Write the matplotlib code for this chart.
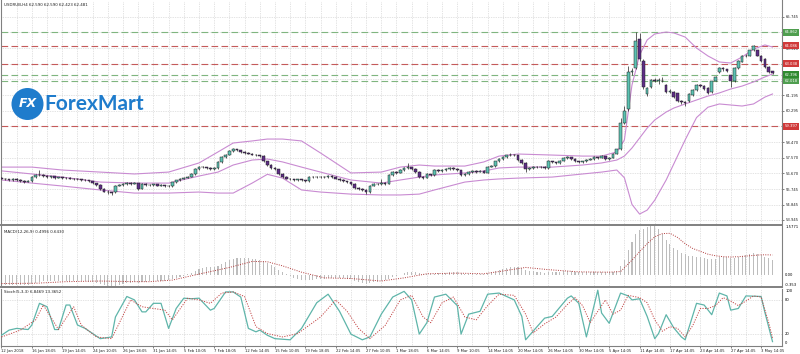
import matplotlib
matplotlib.use("Agg")
import matplotlib.pyplot as plt
from matplotlib.patches import Ellipse
import numpy as np

# H4 candles, one entry per bar
opens = [56.40, 56.35, 56.30, 56.25, 56.32, 56.28, 56.22, 56.18,
         56.20, 56.45, 56.55, 56.55, 56.50, 56.45, 56.48, 56.40,
         56.42, 56.38, 56.40, 56.35, 56.33, 56.30, 56.28, 56.25,
         56.20, 56.10, 56.00, 55.75, 55.60, 55.55, 55.55, 55.95,
         56.00, 56.05, 56.10, 56.05, 56.10, 55.75, 56.05, 56.00,
         55.98, 56.02, 55.95, 55.98, 55.90, 55.90, 56.15, 56.25,
         56.35, 56.40, 56.45, 56.60, 56.90, 57.05, 57.00, 56.95,
         56.90, 56.95, 57.30, 57.60, 57.75, 57.95, 58.05, 58.00,
         57.90, 57.85, 57.80, 57.75, 57.70, 57.65, 57.35, 57.15,
         56.95, 56.90, 56.60, 56.45, 56.35, 56.30, 56.25, 56.30,
         56.25, 56.20, 56.45, 56.45, 56.42, 56.45, 56.42, 56.50,
         56.45, 56.35, 56.25, 56.20, 56.15, 56.05, 55.80, 55.75,
         55.70, 55.55, 55.95, 56.05, 56.05, 56.10, 56.05, 56.55,
         56.75, 56.70, 56.85, 56.95, 57.00, 56.90, 56.75, 56.45,
         56.40, 56.60, 56.55, 56.85, 56.80, 56.85, 56.90, 56.95,
         56.92, 56.85, 56.55, 56.60, 56.75, 56.80, 56.75, 56.80,
         56.70, 57.05, 57.10, 57.35, 57.50, 57.60, 57.70, 57.75,
         57.70, 57.45, 57.25, 56.90, 56.95, 57.05, 57.00, 57.05,
         56.95, 57.35, 57.30, 57.25, 57.40, 57.55, 57.60, 57.50,
         57.35, 57.30, 57.35, 57.45, 57.50, 57.60, 57.55, 57.65,
         57.50, 57.55, 57.80, 58.05, 59.60, 60.40, 62.55, 62.80,
         64.45, 63.20, 61.25, 61.65, 62.08, 62.05, 62.05, 61.80,
         61.38, 61.40, 61.30, 60.85, 60.80, 60.85, 61.20, 61.50,
         61.80, 61.75, 61.60, 61.40, 62.05, 62.55, 62.78, 62.70,
         62.35, 62.00, 62.80, 63.15, 63.50, 63.50, 63.80, 63.80,
         63.50, 63.30, 62.85, 62.59]
highs = [56.45, 56.40, 56.35, 56.38, 56.36, 56.32, 56.26, 56.25,
         56.50, 56.62, 56.85, 56.60, 56.55, 56.52, 56.50, 56.47,
         56.45, 56.44, 56.42, 56.38, 56.36, 56.34, 56.31, 56.28,
         56.22, 56.12, 56.02, 55.80, 55.66, 55.60, 56.00, 56.05,
         56.10, 56.15, 56.14, 56.15, 56.12, 56.10, 56.08, 56.04,
         56.06, 56.05, 56.02, 56.00, 55.98, 56.18, 56.28, 56.38,
         56.43, 56.50, 56.65, 56.95, 57.10, 57.08, 57.04, 57.00,
         57.00, 57.35, 57.65, 57.80, 58.00, 58.12, 58.08, 58.02,
         57.95, 57.90, 57.84, 57.80, 57.74, 57.75, 57.40, 57.18,
         57.00, 56.92, 56.65, 56.48, 56.40, 56.34, 56.34, 56.33,
         56.28, 56.50, 56.52, 56.50, 56.50, 56.48, 56.55, 56.54,
         56.48, 56.38, 56.30, 56.24, 56.18, 56.08, 55.85, 55.80,
         55.74, 56.00, 56.10, 56.12, 56.30, 56.15, 56.60, 56.80,
         56.80, 56.90, 57.00, 57.25, 57.05, 56.95, 56.80, 56.50,
         56.65, 56.64, 56.90, 56.90, 56.92, 56.96, 57.02, 57.00,
         56.96, 56.88, 56.66, 56.80, 56.85, 56.84, 56.85, 56.84,
         57.10, 57.15, 57.40, 57.55, 57.65, 57.75, 57.85, 57.80,
         57.74, 57.50, 57.30, 57.00, 57.10, 57.08, 57.10, 57.08,
         57.45, 57.40, 57.34, 57.45, 57.60, 57.65, 57.63, 57.53,
         57.38, 57.40, 57.50, 57.55, 57.65, 57.63, 57.70, 57.68,
         57.60, 57.85, 58.10, 59.90, 60.60, 62.90, 62.80, 64.86,
         64.80, 63.30, 61.70, 62.15, 62.20, 62.20, 62.25, 61.85,
         61.55, 61.45, 61.35, 60.90, 60.85, 61.30, 61.55, 61.85,
         61.85, 61.80, 61.65, 62.05, 62.30, 62.85, 62.85, 62.75,
         62.40, 62.85, 63.25, 63.55, 63.60, 63.85, 64.09, 63.85,
         63.55, 63.35, 62.90, 62.59]
lows = [56.30, 56.25, 56.20, 56.22, 56.24, 56.18, 56.12, 56.14,
        56.18, 56.40, 56.48, 56.45, 56.40, 56.40, 56.35, 56.36,
        56.33, 56.34, 56.30, 56.28, 56.25, 56.24, 56.20, 56.15,
        56.05, 55.95, 55.70, 55.55, 55.48, 55.40, 55.50, 55.90,
        55.95, 56.00, 56.00, 56.02, 55.70, 55.72, 55.95, 55.94,
        55.95, 55.92, 55.92, 55.86, 55.86, 55.87, 56.12, 56.22,
        56.30, 56.36, 56.42, 56.58, 56.85, 56.95, 56.90, 56.86,
        56.88, 56.92, 57.25, 57.55, 57.70, 57.90, 57.95, 57.86,
        57.80, 57.76, 57.70, 57.66, 57.60, 57.30, 57.10, 56.90,
        56.86, 56.55, 56.40, 56.30, 56.26, 56.20, 56.22, 56.20,
        56.15, 56.18, 56.38, 56.38, 56.40, 56.36, 56.40, 56.40,
        56.30, 56.20, 56.16, 56.10, 56.00, 55.75, 55.70, 55.64,
        55.48, 55.52, 55.90, 55.98, 56.00, 56.00, 56.02, 56.50,
        56.64, 56.66, 56.80, 56.90, 56.85, 56.70, 56.40, 56.35,
        56.38, 56.50, 56.52, 56.75, 56.76, 56.80, 56.86, 56.88,
        56.80, 56.50, 56.50, 56.56, 56.70, 56.70, 56.72, 56.65,
        56.66, 57.00, 57.05, 57.30, 57.45, 57.55, 57.65, 57.65,
        57.40, 57.20, 56.75, 56.85, 56.90, 56.95, 56.96, 56.90,
        56.90, 57.25, 57.20, 57.22, 57.36, 57.50, 57.45, 57.30,
        57.25, 57.26, 57.32, 57.42, 57.46, 57.50, 57.52, 57.45,
        57.46, 57.52, 57.76, 58.00, 59.50, 60.30, 62.40, 62.70,
        63.20, 61.55, 61.15, 61.60, 61.95, 61.85, 61.95, 61.30,
        61.30, 61.05, 60.80, 60.70, 60.60, 60.80, 61.15, 61.45,
        61.65, 61.50, 61.25, 61.35, 62.00, 62.50, 62.60, 62.55,
        61.70, 61.95, 62.75, 63.10, 63.40, 63.45, 63.75, 63.45,
        63.15, 62.80, 62.50, 62.42]
closes = [56.35, 56.30, 56.25, 56.32, 56.28, 56.22, 56.18, 56.20,
          56.45, 56.55, 56.55, 56.50, 56.45, 56.48, 56.40, 56.42,
          56.38, 56.40, 56.35, 56.33, 56.30, 56.28, 56.25, 56.20,
          56.10, 56.00, 55.75, 55.60, 55.55, 55.50, 55.95, 56.00,
          56.05, 56.10, 56.05, 56.10, 55.75, 56.05, 56.00, 55.98,
          56.02, 55.95, 55.98, 55.90, 55.95, 56.15, 56.25, 56.35,
          56.40, 56.45, 56.60, 56.90, 57.05, 57.00, 56.95, 56.90,
          56.95, 57.30, 57.60, 57.75, 57.95, 58.05, 58.00, 57.90,
          57.85, 57.80, 57.75, 57.70, 57.65, 57.35, 57.15, 56.95,
          56.90, 56.60, 56.45, 56.35, 56.30, 56.25, 56.30, 56.25,
          56.20, 56.45, 56.45, 56.42, 56.45, 56.42, 56.50, 56.45,
          56.35, 56.25, 56.20, 56.15, 56.05, 55.80, 55.75, 55.70,
          55.55, 55.95, 56.05, 56.05, 56.10, 56.05, 56.55, 56.75,
          56.70, 56.85, 56.95, 57.00, 56.90, 56.75, 56.45, 56.40,
          56.60, 56.55, 56.85, 56.80, 56.85, 56.90, 56.95, 56.92,
          56.85, 56.55, 56.60, 56.75, 56.80, 56.75, 56.80, 56.70,
          57.05, 57.10, 57.35, 57.50, 57.60, 57.70, 57.75, 57.70,
          57.45, 57.25, 56.90, 56.95, 57.05, 57.00, 57.05, 56.95,
          57.35, 57.30, 57.25, 57.40, 57.55, 57.60, 57.50, 57.35,
          57.30, 57.35, 57.45, 57.50, 57.60, 57.55, 57.65, 57.50,
          57.55, 57.80, 58.05, 59.60, 60.30, 62.55, 62.60, 64.35,
          63.30, 61.65, 61.60, 62.08, 62.05, 62.05, 62.00, 61.38,
          61.45, 61.10, 60.85, 60.80, 60.75, 61.25, 61.50, 61.80,
          61.72, 61.55, 61.30, 62.00, 62.25, 62.78, 62.70, 62.60,
          62.00, 62.80, 63.20, 63.50, 63.45, 63.80, 64.05, 63.50,
          63.20, 62.85, 62.55, 62.48]

# Bollinger bands, read at these bar positions
bb_idx = [0, 8, 16, 26, 35, 44, 52, 57, 61, 66, 70, 74, 79, 84, 92, 100, 105,
          110, 114, 122, 127, 131, 136, 145, 153, 158, 162, 164, 166, 168, 170,
          172, 175, 177, 180, 183, 186, 189, 192, 195, 198, 201, 203]
bb_upper = [57.02, 57.02, 56.85, 56.73, 56.62, 56.73, 57.26, 57.90, 58.42, 58.54,
            58.65, 58.65, 58.54, 57.84, 56.68, 56.73, 57.02, 57.14, 57.08, 57.08,
            57.32, 57.66, 57.78, 57.72, 57.66, 57.66, 57.90, 58.60, 61.79, 63.53,
            64.41, 64.76, 64.87, 64.82, 64.58, 63.94, 63.48, 63.13, 63.07, 63.42,
            63.88, 64.12, 64.00]
bb_mid = [56.80, 56.62, 56.44, 56.15, 56.09, 56.09, 56.50, 56.73, 57.14, 57.43,
          57.49, 57.32, 57.02, 56.73, 56.27, 56.09, 56.27, 56.44, 56.56, 56.68,
          56.79, 56.97, 57.02, 57.02, 57.14, 57.26, 57.43, 57.66, 58.13, 58.71,
          59.29, 59.76, 60.22, 60.45, 60.69, 60.92, 61.15, 61.33, 61.56, 61.73,
          61.97, 62.26, 62.43]
bb_lower = [56.27, 56.09, 55.92, 55.69, 55.51, 55.51, 55.57, 55.51, 55.51, 56.09,
            56.60, 56.38, 55.69, 55.57, 55.45, 55.40, 55.40, 55.45, 55.69, 56.15,
            56.27, 56.33, 56.38, 56.44, 56.62, 56.73, 56.85, 56.40, 54.85, 54.29,
            54.52, 55.10, 56.27, 57.20, 58.60, 59.90, 60.50, 60.69, 60.63, 60.57,
            60.69, 61.09, 61.27]

# MACD(12,26,9): main values per bar, signal read at sample bars
macd = [-0.30, -0.30, -0.31, -0.30, -0.30, -0.30, -0.30, -0.29,
        -0.27, -0.24, -0.21, -0.19, -0.18, -0.17, -0.17, -0.17,
        -0.17, -0.17, -0.17, -0.17, -0.18, -0.18, -0.19, -0.20,
        -0.22, -0.24, -0.28, -0.32, -0.35, -0.353, -0.34, -0.31,
        -0.28, -0.25, -0.23, -0.21, -0.23, -0.21, -0.20, -0.19,
        -0.18, -0.17, -0.17, -0.17, -0.16, -0.13, -0.09, -0.05,
        -0.01, 0.03, 0.07, 0.13, 0.19, 0.23, 0.25, 0.26,
        0.27, 0.31, 0.37, 0.42, 0.47, 0.52, 0.54, 0.55,
        0.55, 0.54, 0.53, 0.51, 0.49, 0.45, 0.39, 0.32,
        0.26, 0.18, 0.10, 0.03, -0.03, -0.08, -0.11, -0.14,
        -0.16, -0.15, -0.14, -0.13, -0.11, -0.10, -0.08, -0.07,
        -0.07, -0.08, -0.09, -0.11, -0.13, -0.17, -0.20, -0.23,
        -0.26, -0.25, -0.22, -0.20, -0.18, -0.16, -0.11, -0.06,
        -0.02, 0.02, 0.06, 0.09, 0.10, 0.10, 0.07, 0.05,
        0.04, 0.03, 0.05, 0.06, 0.07, 0.08, 0.09, 0.09,
        0.09, 0.06, 0.05, 0.05, 0.05, 0.05, 0.05, 0.04,
        0.06, 0.09, 0.13, 0.17, 0.21, 0.24, 0.26, 0.27,
        0.26, 0.23, 0.18, 0.15, 0.13, 0.11, 0.10, 0.08,
        0.10, 0.11, 0.11, 0.12, 0.13, 0.14, 0.14, 0.12,
        0.10, 0.09, 0.09, 0.10, 0.11, 0.11, 0.12, 0.11,
        0.11, 0.12, 0.15, 0.30, 0.50, 0.80, 1.05, 1.30,
        1.42, 1.48, 1.53, 1.56, 1.5771, 1.48, 1.30, 1.12,
        0.98, 0.88, 0.80, 0.72, 0.66, 0.62, 0.60, 0.59,
        0.58, 0.56, 0.53, 0.52, 0.53, 0.57, 0.59, 0.59,
        0.55, 0.55, 0.58, 0.62, 0.64, 0.66, 0.70, 0.68,
        0.64, 0.59, 0.54, 0.4996]
sig_idx = [0, 9, 17, 26, 35, 39, 45, 52, 60, 66, 70, 74, 79, 85, 92, 100, 106,
           112, 120, 127, 131, 138, 144, 152, 160, 163, 166, 168, 170, 172, 174,
           176, 178, 180, 182, 184, 186, 188, 190, 192, 194, 196, 198, 200, 202, 203]
sig_val = [-0.26, -0.25, -0.20, -0.18, -0.20, -0.20, -0.15, 0.04, 0.25, 0.44,
           0.43, 0.30, 0.10, -0.08, -0.10, -0.18, -0.08, 0.05, 0.07, 0.05,
           0.12, 0.25, 0.18, 0.11, 0.10, 0.12, 0.48, 0.75, 1.00, 1.22,
           1.32, 1.33, 1.20, 1.00, 0.85, 0.76, 0.67, 0.62, 0.59, 0.58,
           0.59, 0.61, 0.63, 0.65, 0.648, 0.643]

# Stochastic(5,3,3), turning points
k_idx = [0, 2, 4, 7, 8, 10, 12, 14, 15, 17, 18, 20, 22, 26, 29, 30, 33, 35, 37,
         38, 40, 42, 44, 46, 48, 50, 52, 55, 56, 59, 61, 63, 65, 67, 68, 70, 72,
         76, 79, 83, 86, 89, 92, 95, 97, 100, 103, 106, 108, 110, 112, 114, 117,
         120, 121, 123, 126, 128, 131, 135, 137, 138, 141, 143, 145, 149, 150,
         152, 154, 157, 158, 160, 163, 165, 166, 168, 170, 172, 173, 175, 177,
         179, 180, 183, 185, 187, 189, 191, 192, 194, 196, 200, 201, 203]
k_val = [18, 27, 30, 28, 36, 74, 68, 28, 28, 71, 71, 36, 30, 12, 15, 50, 86, 80, 59,
         59, 74, 74, 30, 65, 83, 82, 83, 62, 65, 94, 94, 85, 30, 24, 27, 18, 12,
         10, 30, 75, 90, 60, 20, 10, 15, 55, 85, 95, 80, 20, 40, 85, 90,
         70, 20, 55, 60, 90, 92, 80, 51, 10, 33, 48, 51, 83, 87,
         74, 15, 97, 57, 39, 92, 87, 80, 82, 51, 12, 21, 54, 31,
         15, 10, 74, 71, 54, 92, 87, 62, 65, 87, 86, 58, 6.85]
d_idx = [0, 5, 9, 11, 14, 15, 19, 21, 25, 29, 34, 37, 40, 43, 45, 49, 52, 55, 58,
         61, 64, 67, 70, 74, 78, 84, 88, 91, 94, 97, 101, 105, 108, 111, 113, 116,
         119, 122, 125, 128, 131, 135, 138, 140, 143, 146, 149, 151, 153, 155,
         157, 159, 161, 163, 165, 168, 170, 172, 174, 176, 178, 180, 182, 184,
         186, 188, 190, 192, 194, 196, 198, 200, 202, 203]
d_val = [15, 27, 45, 71, 39, 28, 68, 36, 15, 12, 80, 68, 65, 62, 45, 83, 80, 74, 92,
         94, 86, 33, 21, 15, 21, 50, 80, 60, 30, 12, 35, 80, 88, 50, 40, 75,
         85, 50, 45, 70, 90, 88, 55, 22, 38, 50, 72, 84, 70, 40,
         60, 80, 55, 62, 88, 84, 75, 45, 25, 33, 30, 15, 35, 65,
         65, 70, 84, 78, 70, 78, 87, 85, 40, 13.37]

# horizontal levels drawn on the price window
green_levels = [64.862, 62.396, 62.018]
red_levels = [64.086, 63.038, 59.397]
price_ticks = [65.745, 64.845, 63.920, 63.020, 62.120, 61.195, 60.295, 59.395,
               58.470, 57.570, 56.670, 55.745, 54.845, 53.945]
date_labels = ["12 Jan 2018", "16 Jan 18:05", "19 Jan 14:05", "24 Jan 10:05",
               "26 Jan 18:05", "31 Jan 14:05", "5 Feb 10:05", "7 Feb 18:05",
               "12 Feb 14:05", "15 Feb 10:05", "19 Feb 18:05", "22 Feb 14:05",
               "27 Feb 10:05", "1 Mar 18:05", "6 Mar 14:05", "9 Mar 10:05",
               "14 Mar 14:05", "20 Mar 14:05", "26 Mar 14:05", "30 Mar 14:05",
               "5 Apr 14:05", "11 Apr 14:05", "17 Apr 14:05", "23 Apr 14:05",
               "27 Apr 14:05", "3 May 14:05"]

W, H = 800, 354
FS = 2.7
GRID = "#c8c8c8"
EDGE = "#808080"

fig = plt.figure(figsize=(W / 100, H / 100), dpi=100)
fig.patch.set_facecolor("white")


def px_box(x0, y0, x1, y1):
    return [x0 / W, 1 - y1 / H, (x1 - x0) / W, (y1 - y0) / H]


ax_p = fig.add_axes(px_box(0.5, 0.5, 782, 224.5))
ax_m = fig.add_axes(px_box(0.5, 225.5, 782, 286.5), sharex=ax_p)
ax_s = fig.add_axes(px_box(0.5, 288.5, 782, 345.5), sharex=ax_p)

o = np.array(opens)
h = np.array(highs)
l = np.array(lows)
c = np.array(closes)
n = len(c)
idx = np.arange(n)

for ax in (ax_p, ax_m, ax_s):
    ax.set_xlim(-0.26, 205.5)
    ax.set_xticks(np.arange(0, n, 8))
    ax.set_xticks(np.arange(4, n, 8), minor=True)
    ax.grid(True, which="both", axis="x", color=GRID, lw=0.5, ls=(0, (1, 1.5)))
    ax.yaxis.tick_right()
    ax.tick_params(axis="y", labelsize=FS, length=1.5, width=0.4, pad=1.2, colors="#202020")
    ax.tick_params(axis="x", which="both", length=0, labelbottom=False)
    for side in ax.spines:
        ax.spines[side].set_color(EDGE)
        ax.spines[side].set_linewidth(0.8)
    ax.set_axisbelow(True)

ax_p.spines["top"].set_visible(False)
ax_p.spines["bottom"].set_linewidth(1.4)
ax_m.spines["top"].set_visible(False)
ax_m.spines["bottom"].set_linewidth(1.4)
ax_s.spines["top"].set_visible(False)

# price window
ax_p.set_ylim(53.683, 66.704)
ax_p.set_yticks(price_ticks)
ax_p.set_yticklabels([f"{v:.3f}" for v in price_ticks])
ax_p.grid(True, axis="y", color=GRID, lw=0.5, ls=(0, (1, 1.5)))

for lvl in green_levels:
    ax_p.axhline(lvl, color="#7fb57f", lw=0.8, dashes=(6, 3), zorder=1)
for lvl in red_levels:
    ax_p.axhline(lvl, color="#c45a5a", lw=0.8, dashes=(6, 3), zorder=1)

ax_p.plot(bb_idx, bb_upper, color="#c98bd2", lw=0.8, zorder=2)
ax_p.plot(bb_idx, bb_mid, color="#c98bd2", lw=0.8, zorder=2)
ax_p.plot(bb_idx, bb_lower, color="#c98bd2", lw=0.8, zorder=2)

up = c >= o
body_lo = np.minimum(o, c)
body_h = np.maximum(np.abs(c - o), 0.012)
ax_p.vlines(idx, l, h, color="#202020", lw=0.5, zorder=3)
ax_p.bar(idx[up], body_h[up], bottom=body_lo[up], width=0.7,
         color="#5cc2b2", edgecolor="#202020", lw=0.35, zorder=4)
ax_p.bar(idx[~up], body_h[~up], bottom=body_lo[~up], width=0.7,
         color="#5e2d86", edgecolor="#202020", lw=0.35, zorder=4)

for lvl, col in [(64.862, "#4f9e4f"), (62.396, "#2f8a2f"), (62.018, "#4f9e4f"),
                 (64.086, "#d03a3a"), (63.038, "#d03a3a"), (59.397, "#d03a3a")]:
    ax_p.text(1.003, lvl, f"{lvl:.3f}", transform=ax_p.get_yaxis_transform(),
              fontsize=FS, color="white", va="center", ha="left", clip_on=False, zorder=10,
              bbox=dict(boxstyle="square,pad=0.35", fc=col, ec="none"))

ax_p.text(0.004, 0.988, "USDRUB,H4 62.590 62.590 62.423 62.481", transform=ax_p.transAxes,
          fontsize=2.9, va="top", ha="left", color="#202020")

# MACD window
ax_m.set_ylim(-0.353, 1.5771)
ax_m.set_yticks([])
ax_m.bar(idx, macd, width=0.28, color="#bdbdbd", zorder=2)
ax_m.plot(sig_idx, sig_val, color="#b23c3c", lw=0.7, ls=(0, (1, 1.4)), zorder=3)
ytr = ax_m.get_yaxis_transform()
ax_m.text(1.004, 1.5771, "1.5771", transform=ytr, fontsize=FS, va="top", ha="left")
ax_m.text(1.004, 0.0, "0.00", transform=ytr, fontsize=FS, va="center", ha="left")
ax_m.text(1.004, -0.353, "-0.353", transform=ytr, fontsize=FS, va="bottom", ha="left")
ax_m.text(0.004, 0.93, "MACD(12,26,9) 0.4996 0.6430", transform=ax_m.transAxes,
          fontsize=2.9, va="top", ha="left", color="#202020")

# Stochastic window
ax_s.set_ylim(0, 100)
ax_s.set_yticks([])
for lvl in (20, 80):
    ax_s.axhline(lvl, color=GRID, lw=0.5, ls=(0, (1, 1.5)), zorder=1)
ax_s.plot(k_idx, k_val, color="#5fb5aa", lw=0.9, zorder=3)
ax_s.plot(d_idx, d_val, color="#c44848", lw=0.7, ls=(0, (1.2, 1.4)), zorder=3)
ytr = ax_s.get_yaxis_transform()
ax_s.text(1.004, 99, "100", transform=ytr, fontsize=FS, va="top", ha="left")
ax_s.text(1.004, 80, "80", transform=ytr, fontsize=FS, va="center", ha="left")
ax_s.text(1.004, 20, "20", transform=ytr, fontsize=FS, va="center", ha="left")
ax_s.text(1.004, 1, "0", transform=ytr, fontsize=FS, va="bottom", ha="left")
ax_s.text(0.004, 0.97, "Stoch(5,3,3) 6.8469 13.3652", transform=ax_s.transAxes,
          fontsize=2.9, va="top", ha="left", color="#202020")

ax_s.tick_params(axis="x", which="major", length=1.5, width=0.4, labelbottom=True,
                 labelsize=FS, pad=1, colors="#202020")
ax_s.set_xticklabels(date_labels)
for lab in ax_s.get_xticklabels():
    lab.set_horizontalalignment("left")

# ForexMart logo
fig.patches.append(Ellipse((27.5 / W, 1 - 104 / H), 32 / W, 32 / H,
                           transform=fig.transFigure, fc="#1f7ccc", ec="none", zorder=20))
fig.text(27.5 / W, 1 - 104 / H, "FX", color="white", fontsize=9, fontweight="bold",
         fontstyle="italic", ha="center", va="center", zorder=21)
fig.text(44 / W, 1 - 104 / H, "ForexMart", color="#1f7ccc", fontsize=15,
         fontweight="bold", family="Lato", ha="left", va="center", zorder=21)

fig.savefig("out.png", dpi=100, facecolor="white")
